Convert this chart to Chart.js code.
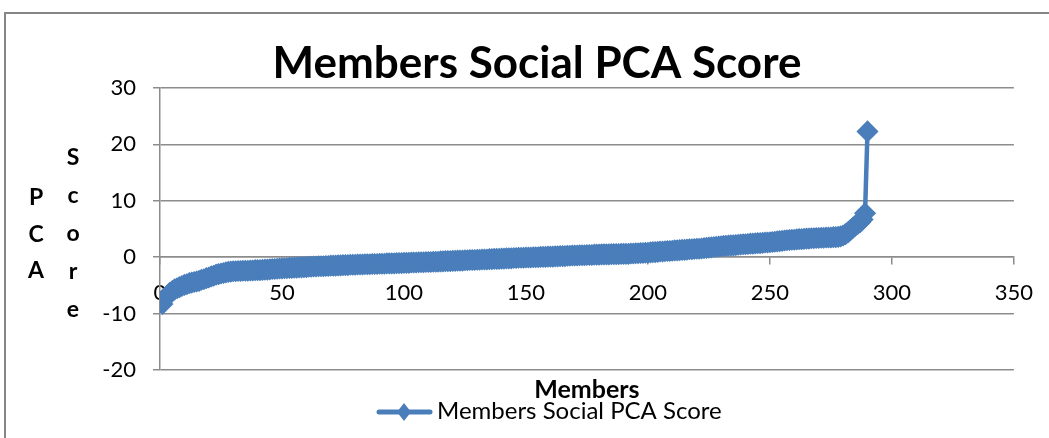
<!DOCTYPE html>
<html>
<head>
<meta charset="utf-8">
<script src="https://cdn.jsdelivr.net/npm/chart.js@4/dist/chart.umd.min.js"></script>
<style>
  html, body { margin: 0; padding: 0; background: #fff; }
  #wrap { width: 1049px; height: 438px; position: relative; }
</style>
</head>
<body>
<div id="wrap"><canvas id="chart"></canvas></div>
<script>
const TITLE = 'Members Social PCA Score';
const SERIES_NAME = 'Members Social PCA Score';
const X_TITLE = 'Members';
const Y_TITLE_COL1 = ['P', 'C', 'A'];
const Y_TITLE_COL2 = ['S', 'c', 'o', 'r', 'e'];

const X_TICKS = [0, 50, 100, 150, 200, 250, 300, 350];
const Y_TICKS = [-20, -10, 0, 10, 20, 30];

// sorted scores, one per member (rank 1..290)
const scores = [
  -8.3, -7.4, -6.8, -6.3, -6.0, -5.7, -5.5, -5.3, -5.1, -4.9,
  -4.8, -4.6, -4.5, -4.4, -4.3, -4.2, -4.0, -3.9, -3.7, -3.6,
  -3.4, -3.3, -3.1, -3.0, -2.9, -2.8, -2.7, -2.6, -2.55, -2.5,
  -2.5, -2.45, -2.45, -2.4, -2.4, -2.4, -2.35, -2.35, -2.3, -2.3,
  -2.3, -2.25, -2.2, -2.2, -2.15, -2.1, -2.1, -2.05, -2.0, -2.0,
  -1.95, -1.95, -1.9, -1.9, -1.85, -1.85, -1.8, -1.8, -1.75, -1.75,
  -1.7, -1.7, -1.65, -1.65, -1.6, -1.6, -1.6, -1.55, -1.55, -1.5,
  -1.5, -1.5, -1.45, -1.45, -1.4, -1.4, -1.4, -1.35, -1.35, -1.35,
  -1.3, -1.3, -1.3, -1.25, -1.25, -1.25, -1.2, -1.2, -1.2, -1.15,
  -1.15, -1.15, -1.1, -1.1, -1.1, -1.1, -1.05, -1.05, -1.05, -1.0,
  -1.0, -1.0, -0.95, -0.95, -0.95, -0.9, -0.9, -0.9, -0.85, -0.85,
  -0.85, -0.8, -0.8, -0.8, -0.75, -0.75, -0.7, -0.7, -0.7, -0.65,
  -0.65, -0.6, -0.6, -0.6, -0.55, -0.55, -0.5, -0.5, -0.5, -0.45,
  -0.45, -0.4, -0.4, -0.4, -0.35, -0.35, -0.3, -0.3, -0.3, -0.25,
  -0.25, -0.2, -0.2, -0.2, -0.15, -0.15, -0.1, -0.1, -0.1, -0.05,
  -0.05, -0.05, 0.0, 0.0, 0.0, 0.05, 0.05, 0.05, 0.1, 0.1,
  0.1, 0.15, 0.15, 0.2, 0.2, 0.2, 0.25, 0.25, 0.3, 0.3,
  0.3, 0.35, 0.35, 0.35, 0.4, 0.4, 0.4, 0.45, 0.45, 0.45,
  0.5, 0.5, 0.5, 0.5, 0.55, 0.55, 0.55, 0.55, 0.6, 0.6,
  0.6, 0.6, 0.65, 0.65, 0.7, 0.7, 0.75, 0.75, 0.8, 0.8,
  0.85, 0.9, 0.9, 0.95, 1.0, 1.0, 1.05, 1.1, 1.1, 1.15,
  1.2, 1.2, 1.25, 1.3, 1.3, 1.35, 1.4, 1.4, 1.45, 1.5,
  1.5, 1.55, 1.6, 1.65, 1.7, 1.75, 1.8, 1.85, 1.9, 1.95,
  2.0, 2.0, 2.05, 2.1, 2.1, 2.15, 2.2, 2.25, 2.3, 2.3,
  2.35, 2.4, 2.4, 2.45, 2.5, 2.5, 2.55, 2.6, 2.6, 2.65,
  2.7, 2.75, 2.8, 2.85, 2.9, 2.95, 3.0, 3.05, 3.1, 3.1,
  3.15, 3.2, 3.2, 3.25, 3.3, 3.3, 3.35, 3.35, 3.4, 3.4,
  3.45, 3.45, 3.5, 3.5, 3.5, 3.55, 3.55, 3.6, 3.7, 3.85,
  4.1, 4.4, 4.8, 5.2, 5.6, 5.9, 6.2, 6.7, 7.8, 22.3,
];

const BLUE = '#4a7ebb';
const GRID = '#8c8c8c';
const FONT = "Lato, Carlito, Calibri, 'Open Sans', sans-serif";

// title, framed border, stacked y title, x title and legend
const extrasPlugin = {
  id: 'extras',
  beforeDraw(chart) {
    const ctx = chart.ctx;
    ctx.save();
    ctx.fillStyle = '#fff';
    ctx.fillRect(0, 0, chart.width, chart.height);
    ctx.strokeStyle = '#868686';
    ctx.lineWidth = 2;
    ctx.strokeRect(5, 13, chart.width + 20, chart.height + 20);
    ctx.restore();
  },
  afterDraw(chart) {
    const ctx = chart.ctx;
    const area = chart.chartArea;
    ctx.save();
    ctx.fillStyle = '#000';
    ctx.textAlign = 'center';
    ctx.textBaseline = 'alphabetic';

    ctx.font = `bold 44px ${FONT}`;
    ctx.fillText(TITLE, 537, 78);

    ctx.font = `bold 23px ${FONT}`;
    Y_TITLE_COL1.forEach((ch, i) => ctx.fillText(ch, 36, 205 + i * 36.5));
    Y_TITLE_COL2.forEach((ch, i) => ctx.fillText(ch, 73, 165 + i * 38));

    ctx.font = `bold 25px ${FONT}`;
    ctx.fillText(X_TITLE, (area.left + area.right) / 2, 398);

    // legend
    ctx.strokeStyle = BLUE;
    ctx.lineWidth = 5;
    ctx.lineCap = 'round';
    ctx.beginPath();
    ctx.moveTo(379, 412);
    ctx.lineTo(430, 412);
    ctx.stroke();
    ctx.fillStyle = BLUE;
    ctx.beginPath();
    ctx.moveTo(404, 403);
    ctx.lineTo(411, 412);
    ctx.lineTo(404, 421);
    ctx.lineTo(397, 412);
    ctx.closePath();
    ctx.fill();
    ctx.fillStyle = '#000';
    ctx.textAlign = 'left';
    ctx.font = `24px ${FONT}`;
    ctx.fillText(SERIES_NAME, 437, 419);
    ctx.restore();
  },
};

const ctx = document.getElementById('chart').getContext('2d');
new Chart(ctx, {
  type: 'scatter',
  data: {
    datasets: [{
      label: SERIES_NAME,
      data: scores.map((v, i) => ({ x: i + 1, y: v })),
      showLine: true,
      borderColor: BLUE,
      backgroundColor: BLUE,
      borderWidth: 4.5,
      pointStyle: 'rectRot',
      pointRadius: 10,
      pointBorderWidth: 1.5,
      pointBorderColor: BLUE,
      pointBackgroundColor: BLUE,
    }],
  },
  options: {
    responsive: true,
    maintainAspectRatio: false,
    animation: false,
    layout: { padding: { top: 88, right: 34, bottom: 68, left: 0 } },
    plugins: {
      legend: { display: false },
      tooltip: { enabled: false },
      title: { display: false },
    },
    scales: {
      x: {
        type: 'linear',
        position: { y: 0 },
        min: 0,
        max: 350,
        afterBuildTicks: (scale) => { scale.ticks = X_TICKS.map(v => ({ value: v })); },
        grid: { drawOnChartArea: false, drawTicks: true, tickLength: 7, color: GRID, lineWidth: 1.5 },
        border: { display: true, color: GRID, width: 1.5 },
        ticks: { color: '#000', padding: 16, font: { family: FONT, size: 22 } },
      },
      y: {
        min: -20,
        max: 30,
        afterBuildTicks: (scale) => { scale.ticks = Y_TICKS.map(v => ({ value: v })); },
        afterFit: (scale) => { scale.width = 160; },
        grid: { color: GRID, lineWidth: 1.5, tickLength: 7 },
        border: { display: true, color: GRID, width: 1.5 },
        ticks: { color: '#000', padding: 17, font: { family: FONT, size: 22 } },
      },
    },
  },
  plugins: [extrasPlugin],
});
</script>
</body>
</html>
